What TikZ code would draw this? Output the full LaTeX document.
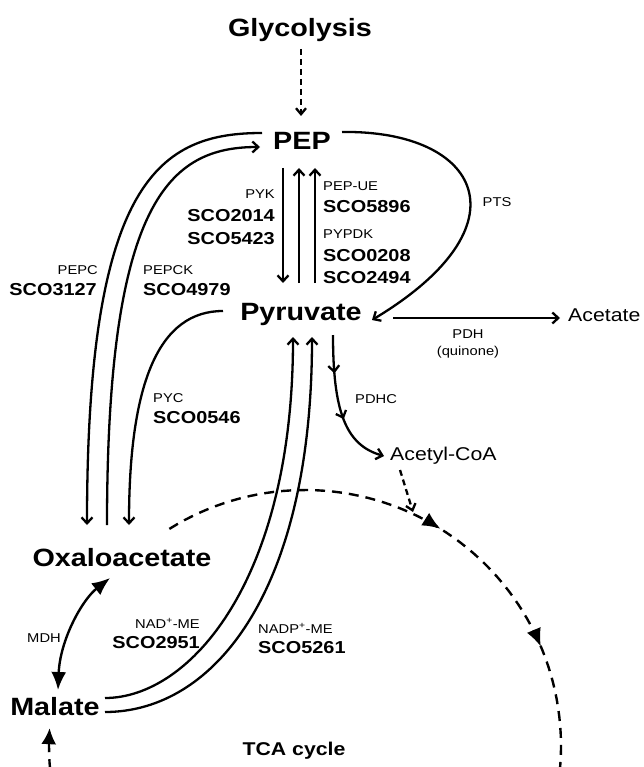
\documentclass[tikz,border=0pt]{standalone}
\usepackage{fontspec}
\setmainfont{Liberation Sans}[FakeStretch=1.15]
\usetikzlibrary{arrows.meta,decorations.markings}
\begin{document}
\begin{tikzpicture}[x=1pt,y=-1pt,
  met/.style={font=\fontsize{25}{28}\selectfont\bfseries, inner sep=0pt, anchor=base},
  enz/.style={font=\fontsize{12.8}{14}\selectfont, inner sep=0pt},
  gene/.style={font=\fontsize{17.3}{19}\selectfont\bfseries, inner sep=0pt},
  subs/.style={font=\fontsize{18.5}{20}\selectfont, inner sep=0pt},
  conn/.style={line width=2.3pt, -{Straight Barb[length=6pt,width=11pt]}},
  dsh/.style={line width=2.3pt, dash pattern=on 6pt off 4pt, -{Straight Barb[length=6pt,width=10pt]}},
  big/.style={line width=2.4pt},
]
\useasboundingbox (0,0) rectangle (644,767);
\clip (0,0) rectangle (644,767);

% metabolites
\node[met] (gly) at (300,37) {Glycolysis};
\node[met] (pep) at (302,150) {PEP};
\node[met] (pyr) at (301,320) {Pyruvate};
\node[met] (oaa) at (122,566) {Oxaloacetate};
\node[met] (mal) at (55,715) {Malate};
\node[subs,anchor=base west] (ace) at (568,321) {Acetate};
\node[subs,anchor=base west] (acoa) at (390,460) {Acetyl-CoA};
\node[font=\fontsize{18.5}{20}\selectfont\bfseries, inner sep=0pt, anchor=base] (tca) at (294,755) {TCA cycle};

% enzyme labels
\node[enz,anchor=base east] (pyk) at (275,199) {PYK};
\node[gene,anchor=base east] (g2014) at (275,222) {SCO2014};
\node[gene,anchor=base east] (g5423) at (275,244) {SCO5423};
\node[enz,anchor=base west] (pepue) at (323,191) {PEP-UE};
\node[gene,anchor=base west] (g5896) at (323,212) {SCO5896};
\node[enz,anchor=base west] (pypdk) at (323,238) {PYPDK};
\node[gene,anchor=base west] (g0208) at (323,261) {SCO0208};
\node[gene,anchor=base west] (g2494) at (323,283) {SCO2494};
\node[enz,anchor=base east] (pepc) at (98,274) {PEPC};
\node[gene,anchor=base east] (g3127) at (97,295) {SCO3127};
\node[enz,anchor=base west] (pepck) at (143,274) {PEPCK};
\node[gene,anchor=base west] (g4979) at (143,295) {SCO4979};
\node[enz,anchor=base west] (pyc) at (153,402) {PYC};
\node[gene,anchor=base west] (g0546) at (153,423) {SCO0546};
\node[enz,anchor=base] (pts) at (497,207) {PTS};
\node[enz,anchor=base] (pdh) at (468,338) {PDH};
\node[enz,anchor=base] (quin) at (468,355) {(quinone)};
\node[enz,anchor=base west] (pdhc) at (355,403) {PDHC};
\node[enz,anchor=base] (mdh) at (44,642) {MDH};
\node[enz,anchor=base east] (nadme) at (200,628) {NAD\textsuperscript{+}-ME};
\node[gene,anchor=base east] (g2951) at (200,648) {SCO2951};
\node[enz,anchor=base west] (nadpme) at (258,633) {NADP\textsuperscript{+}-ME};
\node[gene,anchor=base west] (g5261) at (258,653) {SCO5261};

% end points
\coordinate (glyB) at (301,49);  \coordinate (pepT) at (301,116);
\coordinate (pk1) at (283,168);  \coordinate (pk2) at (283,283);
\coordinate (ue1) at (299,283);  \coordinate (ue2) at (299,168);
\coordinate (pd1) at (315,283);  \coordinate (pd2) at (315,168);
\coordinate (ptsA) at (342,132); \coordinate (ptsB) at (372,320);
\coordinate (pdhA) at (393,318); \coordinate (pdhB) at (560,318);
\coordinate (pdhcA) at (333,335); \coordinate (pdhcB) at (384,456);
\coordinate (pcA) at (262,133);  \coordinate (pcB) at (87,525);
\coordinate (pckA) at (107,525); \coordinate (pckB) at (260,147);
\coordinate (pycA) at (223,311); \coordinate (pycB) at (129,525);
\coordinate (me1A) at (105,698); \coordinate (me1B) at (293,337);
\coordinate (me2A) at (105,712); \coordinate (me2B) at (312,337);
\coordinate (mdhA) at (110,578); \coordinate (mdhB) at (58,690);
\coordinate (acA) at (400,470);  \coordinate (acB) at (413,512);

% connectors
\draw[dsh] (glyB) -- (pepT);
\draw[conn] (pk1) -- (pk2);
\draw[conn] (ue1) -- (ue2);
\draw[conn] (pd1) -- (pd2);
\draw[conn] (ptsA) .. controls (480,130) and (530,225) .. (ptsB);
\draw[conn] (pdhA) -- (pdhB);
\draw[conn, decoration={markings,
   mark=at position 0.27 with {\arrow{Straight Barb[length=6pt,width=11pt]}},
   mark=at position 0.6 with {\arrow{Straight Barb[length=6pt,width=11pt]}}},
   postaction={decorate}] (pdhcA) .. controls (333,410) and (345,445) .. (pdhcB);
\draw[conn] (pcA) .. controls (160,133) and (87,180) .. (pcB);
\draw[conn] (pckA) .. controls (107,200) and (170,147) .. (pckB);
\draw[conn] (pycA) .. controls (160,311) and (129,380) .. (pycB);
\draw[conn] (me1A) .. controls (190,698) and (293,580) .. (me1B);
\draw[conn] (me2A) .. controls (215,712) and (312,590) .. (me2B);
\draw[big, {Latex[length=18pt,width=15pt]}-{Latex[length=18pt,width=15pt]}]
   (mdhA) .. controls (82,600) and (60,640) .. (mdhB);
\draw[dsh] (acA) -- (acB);

% TCA cycle
\draw[big, dash pattern=on 10pt off 7pt, -{Latex[length=16pt,width=15pt]},
   decoration={markings,
   mark=at position 0.209 with {\arrow{Latex[length=18pt,width=15pt]}},
   mark=at position 0.324 with {\arrow{Latex[length=18pt,width=15pt]}}},
   postaction={decorate}]
   plot[domain=238:544, samples=160, variable=\t] ({305+256*cos(\t)},{746+256*sin(\t)});
\end{tikzpicture}
\end{document}
